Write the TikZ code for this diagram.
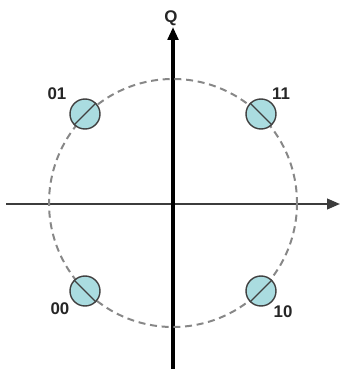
\documentclass[tikz,border=0pt]{standalone}
\usepackage{fontspec}
\setmainfont{Liberation Sans}
\usetikzlibrary{arrows.meta,positioning}
\definecolor{ptfill}{RGB}{170,220,224}
\definecolor{ringgray}{RGB}{135,135,135}
\definecolor{axisgray}{RGB}{60,60,60}

\begin{document}
\begin{tikzpicture}[
  x=0.03cm, y=-0.03cm,
  symb/.style={
    circle, draw=black!75, fill=ptfill, line width=1.2pt,
    minimum size=0.9cm, inner sep=0pt
  },
  lbl/.style={font=\Large\bfseries, inner sep=0pt, text=black!85},
  ring/.style={ringgray, line width=1.7pt, dash pattern=on 6pt off 4pt},
  axisline/.style={-{Triangle[length=11pt, width=9pt]}}
]
  \useasboundingbox (0,0) rectangle (341,369);

  % axes
  \coordinate (ileft)  at (6,204);
  \coordinate (iright) at (340,204);
  \coordinate (qbot)   at (173,369);
  \coordinate (qtop)   at (173,27);
  \draw[axisline, axisgray, line width=1.8pt] (ileft) -- (iright);
  \draw[axisline, black, line width=2.7pt] (qbot) -- (qtop);
  \node[lbl] (qlab) at (171,18) {Q};

  % constellation ring
  \draw[ring] (173,203) circle[radius=124];

  % symbols
  \node[symb] (p01) at (85,114) {};
  \node[symb] (p11) at (261,114) {};
  \node[symb] (p00) at (85,291) {};
  \node[symb] (p10) at (261,291) {};
  \draw[black!75, line width=1pt] (p01.south west) -- (p01.north east);
  \draw[black!75, line width=1pt] (p11.north west) -- (p11.south east);
  \draw[black!75, line width=1pt] (p00.north west) -- (p00.south east);
  \draw[black!75, line width=1pt] (p10.south west) -- (p10.north east);

  \node[lbl] (l01) at (57,94)  {01};
  \node[lbl] (l11) at (281,94) {11};
  \node[lbl] (l00) at (60,309) {00};
  \node[lbl] (l10) at (283,312) {10};
\end{tikzpicture}
\end{document}
